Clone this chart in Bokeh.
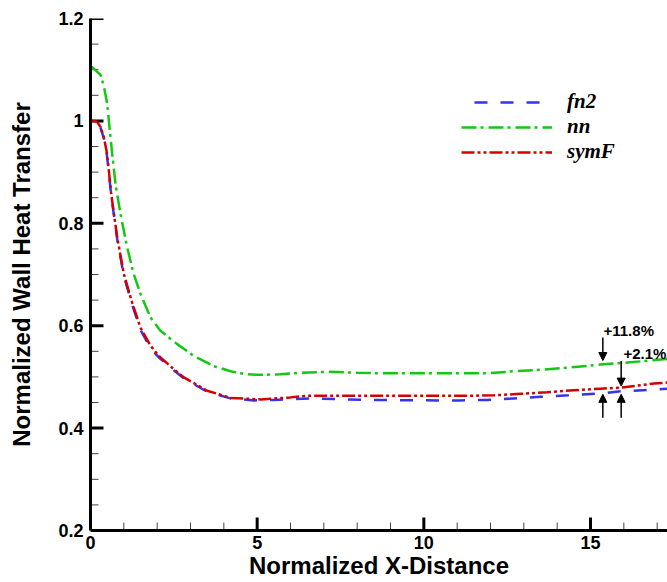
import math

from bokeh.plotting import figure
from bokeh.models import (Range1d, FixedTicker, Legend, LegendItem, Label,
                          Arrow, NormalHead, CustomJSTickFormatter)
from bokeh.embed import file_html
from bokeh.resources import INLINE

# --- data -------------------------------------------------------------
x_fn2 = [0, 0.1, 0.2, 0.3, 0.4, 0.48, 0.55, 0.62, 0.8, 1.0, 1.25, 1.5, 1.8,
         2.05, 2.5, 2.8, 3.5, 4.2, 4.9, 5.5, 6.7, 8.3, 10.4, 11.1, 11.9,
         12.7, 13.5, 14.35, 15.4, 15.9, 16.9, 17.3]
fn2 = [1.0, 1.0, 0.998, 0.987, 0.966, 0.940, 0.900, 0.855, 0.770, 0.697,
       0.641, 0.592, 0.556, 0.538, 0.513, 0.497, 0.471, 0.458, 0.454, 0.455,
       0.458, 0.455, 0.454, 0.454, 0.455, 0.458, 0.461, 0.464, 0.468, 0.472,
       0.475, 0.477]

x_nn = [0, 0.05, 0.30, 0.40, 0.50, 0.58, 0.65, 0.75, 0.90, 1.10, 1.30, 1.50,
        1.80, 2.10, 2.60, 3.10, 3.70, 4.20, 4.60, 5.00, 5.70, 6.30, 7.10,
        8.00, 8.80, 10.0, 10.7, 11.9, 12.7, 13.5, 14.3, 15.3, 16.1, 17.3]
nn = [1.105, 1.105, 1.090, 1.068, 1.034, 0.981, 0.936, 0.877, 0.818, 0.753,
      0.700, 0.662, 0.616, 0.590, 0.564, 0.541, 0.521, 0.511, 0.506, 0.504,
      0.505, 0.508, 0.510, 0.508, 0.507, 0.507, 0.507, 0.507, 0.511, 0.514,
      0.518, 0.524, 0.528, 0.535]

x_symF = [0, 0.1, 0.2, 0.3, 0.4, 0.48, 0.55, 0.62, 0.8, 1.0, 1.25, 1.5, 1.8,
          2.05, 2.5, 2.8, 3.5, 4.2, 5.1, 6.0, 6.5, 8.1, 10.4, 11.3, 12.1,
          12.9, 13.7, 14.5, 15.3, 15.9, 16.9, 17.3]
symF = [1.0, 1.0, 0.998, 0.988, 0.968, 0.942, 0.903, 0.858, 0.773, 0.701,
        0.645, 0.596, 0.561, 0.541, 0.515, 0.499, 0.473, 0.459, 0.456, 0.460,
        0.463, 0.463, 0.463, 0.463, 0.464, 0.467, 0.470, 0.474, 0.477, 0.479,
        0.487, 0.489]

series_names = ["fn2", "nn", "symF"]

x_ticks = [0, 5, 10, 15]
x_minor_ticks = [1, 2, 3, 4, 6, 7, 8, 9, 11, 12, 13, 14, 16, 17]
y_ticks = [0.2, 0.4, 0.6, 0.8, 1.0, 1.2]
y_tick_labels = ["0.2", "0.4", "0.6", "0.8", "1", "1.2"]
y_minor_ticks = [0.25, 0.3, 0.35, 0.45, 0.5, 0.55, 0.65, 0.7, 0.75,
                 0.85, 0.9, 0.95, 1.05, 1.1, 1.15]

# percentage annotations: label text, label anchor, arrow x positions
pct_texts = ["+11.8%", "+2.1%"]
pct_text_x = [15.39, 15.99]
pct_text_y = [0.590, 0.545]
arrow_x = [15.37, 15.92]
arrow_top_start = [0.577, 0.531]
arrow_top_end = [0.532, 0.482]
arrow_bottom_start = [0.420, 0.420]
arrow_bottom_end = [0.466, 0.466]

X_MIN, X_MAX = 0, 17.31
Y_MIN, Y_MAX = 0.2, 1.2

# --- figure -----------------------------------------------------------
p = figure(width=667, height=582, output_backend="svg", toolbar_location=None,
           x_range=Range1d(X_MIN, X_MAX), y_range=Range1d(Y_MIN, Y_MAX),
           min_border_left=90, min_border_right=0, min_border_top=18,
           min_border_bottom=52)
p.outline_line_color = None
p.xgrid.visible = False
p.ygrid.visible = False
p.background_fill_color = "white"
p.border_fill_color = "white"

label_font = "Liberation Sans"

for ax in (p.xaxis[0], p.yaxis[0]):
    ax.axis_line_width = 3
    ax.axis_line_color = "black"
    # tick marks point into the frame; they are drawn as rays below
    ax.major_tick_line_color = None
    ax.minor_tick_line_color = None
    ax.major_tick_out = 0
    ax.minor_tick_out = 0
    ax.major_label_text_font = label_font
    ax.major_label_text_font_style = "bold"
    ax.major_label_text_font_size = "18px"
    ax.major_label_text_color = "black"
    ax.axis_label_text_font = label_font
    ax.axis_label_text_font_style = "bold"
    ax.axis_label_text_font_size = "24px"
    ax.axis_label_text_color = "black"

p.xaxis.ticker = FixedTicker(ticks=x_ticks, minor_ticks=x_minor_ticks)
p.yaxis.ticker = FixedTicker(ticks=y_ticks, minor_ticks=y_minor_ticks)
p.xaxis.formatter = CustomJSTickFormatter(code="return String(tick);")
p.yaxis.formatter = CustomJSTickFormatter(
    args=dict(tick_values=y_ticks, tick_texts=y_tick_labels),
    code="""
    for (let i = 0; i < tick_values.length; i++) {
        if (Math.abs(tick_values[i] - tick) < 1e-9) return tick_texts[i];
    }
    return String(tick);
    """)
p.xaxis.major_label_standoff = 5
p.yaxis.major_label_standoff = 7
p.xaxis.axis_label = "Normalized X-Distance"
p.yaxis.axis_label = "Normalized Wall Heat Transfer"
p.xaxis.axis_label_standoff = 0
p.yaxis.axis_label_standoff = 20

# inward tick marks
p.ray(x=[X_MIN] * len(y_ticks), y=y_ticks, length=13, length_units="screen",
      angle=0, line_color="black", line_width=3)
p.ray(x=[X_MIN] * len(y_minor_ticks), y=y_minor_ticks, length=8,
      length_units="screen", angle=0, line_color="#444444", line_width=1)
p.ray(x=x_ticks, y=[Y_MIN] * len(x_ticks), length=13, length_units="screen",
      angle=math.pi / 2, line_color="black", line_width=3)
p.ray(x=x_minor_ticks, y=[Y_MIN] * len(x_minor_ticks), length=8,
      length_units="screen", angle=math.pi / 2, line_color="#444444",
      line_width=1)

# --- curves -----------------------------------------------------------
r_fn2 = p.line(x_fn2, fn2, line_color="#3333f0", line_width=2.5,
               line_dash="13 13", line_dash_offset=13)
r_nn = p.line(x_nn, nn, line_color="#12c812", line_width=2.5,
              line_dash="15 4 3 5")
r_symF = p.line(x_symF, symF, line_color="#d40000", line_width=2.5,
                line_dash="13 3 3 3 3 3")

legend = Legend(items=[LegendItem(label=series_names[0], renderers=[r_fn2]),
                       LegendItem(label=series_names[1], renderers=[r_nn]),
                       LegendItem(label=series_names[2], renderers=[r_symF])],
                location=(371, 366))
legend.glyph_width = 91
legend.glyph_height = 24
legend.label_height = 24
legend.label_standoff = 15
legend.spacing = 0
legend.padding = 0
legend.margin = 0
legend.border_line_color = None
legend.background_fill_alpha = 0
legend.label_text_font = "Liberation Serif"
legend.label_text_font_style = "bold italic"
legend.label_text_font_size = "21px"
legend.label_text_color = "black"
p.add_layout(legend)

# --- percentage annotations ------------------------------------------
for t, tx, ty in zip(pct_texts, pct_text_x, pct_text_y):
    p.add_layout(Label(x=tx, y=ty, text=t, text_align="left",
                       text_baseline="middle", text_font=label_font,
                       text_font_style="bold", text_font_size="15px",
                       text_color="black"))

for ax_, ys, ye in zip(arrow_x, arrow_top_start, arrow_top_end):
    p.add_layout(Arrow(x_start=ax_, y_start=ys, x_end=ax_, y_end=ye,
                       line_width=1.5, line_color="black",
                       end=NormalHead(size=8, fill_color="black",
                                      line_color="black", line_width=1)))
for ax_, ys, ye in zip(arrow_x, arrow_bottom_start, arrow_bottom_end):
    p.add_layout(Arrow(x_start=ax_, y_start=ys, x_end=ax_, y_end=ye,
                       line_width=1.5, line_color="black",
                       end=NormalHead(size=8, fill_color="black",
                                      line_color="black", line_width=1)))

open("out.html", "w").write(file_html(p, INLINE))
